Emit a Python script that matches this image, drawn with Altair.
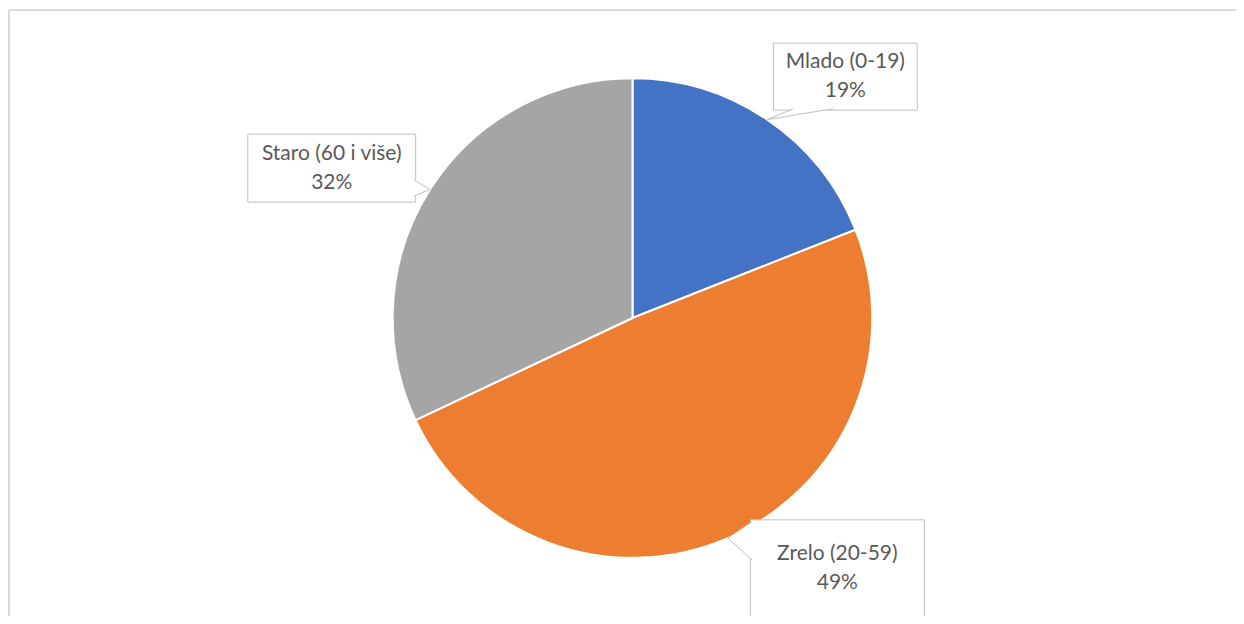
import math
import altair as alt
import pandas as pd

# ---- data ----
categories = ["Mlado (0-19)", "Zrelo (20-59)", "Staro (60 i više)"]
values = [19, 49, 32]
colors = ["#4472C4", "#ED7D31", "#A5A5A5"]

# ---- layout (view pixel coordinates) ----
W, H = 1228, 606
CX, CY, R = 624, 308, 240
boxes = {
    "Mlado (0-19)": dict(x=765, x2=909, y=33, y2=100, base=[(785, 98.5), (825, 98.5)]),
    "Zrelo (20-59)": dict(x=742, x2=916, y=510, y2=607, base=[(743.5, 512), (743.5, 550)]),
    "Staro (60 i više)": dict(x=239, x2=407, y=124, y2=192, base=[(405.5, 170), (405.5, 186)]),
}

pie_df = pd.DataFrame({"category": categories, "value": values, "order": range(len(categories))})

total = sum(values)
box_rows, text_rows, ptr_rows = [], [], []
cum = 0
for cat, v in zip(categories, values):
    mid = (cum + v / 2) / total * 2 * math.pi
    cum += v
    tip = (CX + R * math.sin(mid), CY - R * math.cos(mid))
    b = boxes[cat]
    box_rows.append(dict(category=cat, x=b["x"], x2=b["x2"], y=b["y"], y2=b["y2"]))
    cy = (b["y"] + b["y2"]) / 2
    cx = (b["x"] + b["x2"]) / 2
    text_rows.append(dict(category=cat, t=cat, x=cx, y=cy - 14.5))
    text_rows.append(dict(category=cat, t=f"{v}%", x=cx, y=cy + 14.5))
    pts = [b["base"][0], tip, b["base"][1]]
    for i, (px, py) in enumerate(pts):
        ptr_rows.append(dict(category=cat, i=i, x=px, y=py))

box_df = pd.DataFrame(box_rows)
text_df = pd.DataFrame(text_rows)
ptr_df = pd.DataFrame(ptr_rows)

pie = alt.Chart(pie_df).mark_arc(radius=R, stroke="white", strokeWidth=2).encode(
    theta=alt.Theta("value:Q", stack=True),
    color=alt.Color("category:N", scale=alt.Scale(domain=categories, range=colors), legend=None),
    order=alt.Order("order:Q"),
    x=alt.value(CX),
    y=alt.value(CY),
)

box = alt.Chart(box_df).mark_rect(fill="white", stroke="#BFBFBF", strokeWidth=1).encode(
    x=alt.X("x:Q", scale=None), x2="x2:Q",
    y=alt.Y("y:Q", scale=None), y2="y2:Q",
)

ptr = alt.Chart(ptr_df).mark_line(fill="white", stroke="#BFBFBF", strokeWidth=1).encode(
    x=alt.X("x:Q", scale=None),
    y=alt.Y("y:Q", scale=None),
    detail="category:N",
    order="i:Q",
)

txt = alt.Chart(text_df).mark_text(
    font="Lato", fontSize=21, color="#595959", align="center", baseline="middle"
).encode(
    x=alt.X("x:Q", scale=None),
    y=alt.Y("y:Q", scale=None),
    text="t:N",
)

# chart frame: only top and left edges are visible in the reference
frame_top = alt.Chart(pie_df).mark_rule(color="#D9D9D9", strokeWidth=1.5).encode(
    x=alt.value(0), x2=alt.value(W + 10), y=alt.value(0)
)
frame_left = alt.Chart(pie_df).mark_rule(color="#D9D9D9", strokeWidth=1.5).encode(
    x=alt.value(0), y=alt.value(0), y2=alt.value(H + 10)
)

chart = alt.layer(frame_top, frame_left, pie, box, ptr, txt).properties(
    width=W, height=H, padding={"left": 1, "top": 2, "right": 0, "bottom": 0},
    autosize=alt.AutoSizeParams(type="none"),
).configure_view(strokeWidth=0)

chart.save("out.html", embed_options={"renderer": "svg", "actions": False})
